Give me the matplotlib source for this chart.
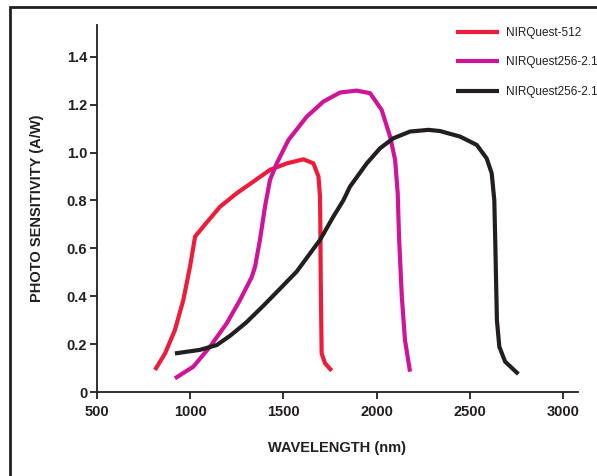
import matplotlib
matplotlib.use('Agg')
import matplotlib.pyplot as plt
from matplotlib.patches import Rectangle
from matplotlib.ticker import FuncFormatter

# NIRQuest-512 (red)
red_x = [811, 865, 918, 963, 999, 1026, 1070, 1160, 1249, 1339, 1428, 1518,
         1607, 1661, 1688, 1696, 1698, 1700, 1705, 1723, 1759]
red_y = [0.092, 0.161, 0.259, 0.384, 0.524, 0.649, 0.691, 0.774, 0.83, 0.879,
         0.928, 0.955, 0.972, 0.955, 0.90, 0.817, 0.705, 0.468, 0.161, 0.12,
         0.089]

# NIRQuest256-2.1 (magenta)
mag_x = [918, 1017, 1106, 1196, 1267, 1330, 1348, 1374, 1401, 1428, 1464, 1527,
         1625, 1714, 1804, 1893, 1965, 2027, 2072, 2099, 2113, 2120, 2135, 2152,
         2179]
mag_y = [0.057, 0.106, 0.189, 0.287, 0.384, 0.48, 0.524, 0.635, 0.774, 0.886,
         0.955, 1.053, 1.15, 1.213, 1.251, 1.259, 1.248, 1.178, 1.067, 0.97,
         0.83, 0.649, 0.398, 0.217, 0.085]

# NIRQuest256-2.1 (black)
blk_x = [918, 1052, 1142, 1214, 1300, 1392, 1480, 1571, 1625, 1696, 1768, 1821,
         1857, 1947, 2018, 2090, 2179, 2278, 2340, 2447, 2537, 2590, 2617, 2631,
         2636, 2641, 2645, 2658, 2689, 2760]
blk_y = [0.161, 0.176, 0.196, 0.235, 0.29, 0.36, 0.43, 0.503, 0.56, 0.635,
         0.733, 0.80, 0.858, 0.955, 1.018, 1.06, 1.088, 1.095, 1.09, 1.067,
         1.032, 0.976, 0.914, 0.802, 0.635, 0.45, 0.30, 0.189, 0.127, 0.075]

labels = ['NIRQuest-512', 'NIRQuest256-2.1', 'NIRQuest256-2.1']
colors = ['#ED1C3A', '#CF1499', '#231F20']

x_ticks = [500, 1000, 1500, 2000, 2500, 3000]
y_ticks = [0, 0.2, 0.4, 0.6, 0.8, 1.0, 1.2, 1.4]

plt.rcParams.update({
    'font.family': ['Liberation Sans', 'DejaVu Sans'],
    'text.color': '#231F20',
    'axes.labelcolor': '#231F20',
    'xtick.color': '#231F20',
    'ytick.color': '#231F20',
})

fig = plt.figure(figsize=(5.97, 4.76), dpi=100)
ax = fig.add_axes([97 / 597, 84 / 476, 481 / 597, 367 / 476])

series = [(red_x, red_y), (mag_x, mag_y), (blk_x, blk_y)]
for (xs, ys), lab, col in zip(series, labels, colors):
    ax.plot(xs, ys, color=col, linewidth=3.0, label=lab,
            solid_capstyle='butt', solid_joinstyle='round')

ax.set_xlim(500, 3080)
ax.set_ylim(0, 1.533)
ax.set_xticks(x_ticks)
ax.set_yticks(y_ticks)
ax.yaxis.set_major_formatter(FuncFormatter(lambda v, _: '0' if v == 0 else f'{v:.1f}'))

for s in ['top', 'right']:
    ax.spines[s].set_visible(False)
for s in ['left', 'bottom']:
    ax.spines[s].set_linewidth(1.3)
    ax.spines[s].set_color('#231F20')

ax.tick_params(length=5, width=1.3, labelsize=10.5)
ax.tick_params(axis='x', pad=4)
ax.tick_params(axis='y', pad=2)
for lbl in ax.get_xticklabels() + ax.get_yticklabels():
    lbl.set_fontweight('bold')

ax.set_xlabel('WAVELENGTH (nm)', fontsize=10.5, fontweight='bold', labelpad=16)
ax.set_ylabel('PHOTO SENSITIVITY (A/W)', fontsize=10.5, fontweight='bold',
              labelpad=16)

ax.legend(loc='upper left', bbox_to_anchor=(451 / 597, 1 - 22 / 476),
          bbox_transform=fig.transFigure, frameon=False, fontsize=8.5,
          handlelength=3.7, handletextpad=0.6, labelspacing=1.5,
          borderaxespad=0)

# outer frame, running off the right and bottom edges
fig.add_artist(Rectangle((10 / 597, -0.2), 1.2, 1.2 - 7 / 476,
                         transform=fig.transFigure, fill=False,
                         linewidth=2, edgecolor='#231F20', clip_on=False))

fig.savefig('out.png', dpi=100, facecolor='white')
